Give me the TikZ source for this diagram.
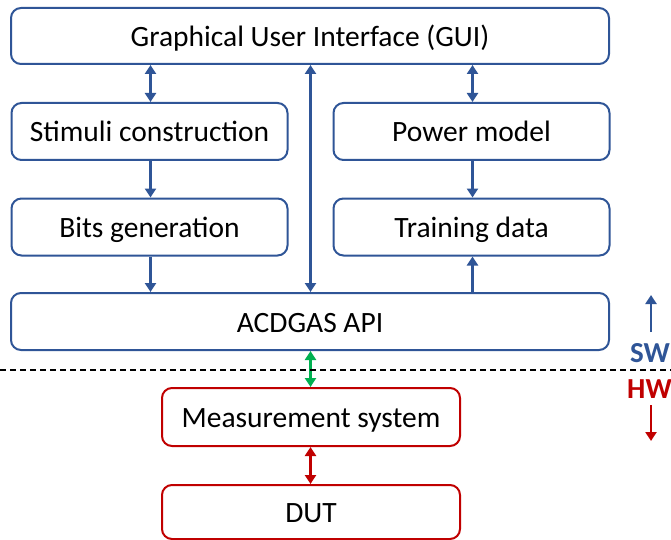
\documentclass[tikz,border=0pt]{standalone}
\usepackage{fontspec}
\setmainfont{Carlito}
\usetikzlibrary{arrows.meta}
\definecolor{swblue}{HTML}{2F5597}
\definecolor{hwred}{HTML}{C00000}
\definecolor{ifgreen}{HTML}{00B050}
\tikzset{
  box/.style={draw, rounded corners=10pt, line width=2pt, fill=white,
    font=\fontsize{29.5}{34}\selectfont, inner sep=0pt, anchor=center,
    text height=22pt, text depth=1pt},
  swbox/.style={box, draw=swblue},
  hwbox/.style={box, draw=hwred},
  tip/.style={-{Triangle[width=11pt,length=9pt]}},
  dtip/.style={{Triangle[width=11pt,length=9pt]}-{Triangle[width=11pt,length=9pt]}},
  conn/.style={line width=2.5pt},
  lbl/.style={font=\fontsize{29}{34}\selectfont\bfseries, inner sep=0pt, anchor=west}
}
\begin{document}
\begin{tikzpicture}[x=1pt,y=-1pt]
\useasboundingbox (0,0) rectangle (671,540);
\node[swbox, minimum width=598pt, minimum height=56pt] (gui) at (310,36) {Graphical User Interface (GUI)};
\node[swbox, minimum width=276pt, minimum height=57pt] (stim) at (149.5,131.5) {Stimuli construction};
\node[swbox, minimum width=276pt, minimum height=57pt] (power) at (471.5,131.5) {Power model};
\node[swbox, minimum width=276pt, minimum height=57pt] (bits) at (149.5,227) {Bits generation};
\node[swbox, minimum width=276pt, minimum height=57pt] (train) at (471.5,227) {Training data};
\node[swbox, minimum width=598pt, minimum height=57pt] (api) at (310,321.5) {ACDGAS API};
\node[hwbox, minimum width=298pt, minimum height=58pt] (meas) at (311,417) {Measurement system};
\node[hwbox, minimum width=298pt, minimum height=54pt] (dut) at (311,512) {DUT};

\coordinate (xl) at (150.5,0);
\coordinate (xm) at (310.5,0);
\coordinate (xr) at (472.5,0);

\draw[conn, swblue, dtip] (gui.south -| xl) -- (stim.north -| xl);
\draw[conn, swblue, dtip] (gui.south -| xr) -- (power.north -| xr);
\draw[conn, swblue, tip] (stim.south -| xl) -- (bits.north -| xl);
\draw[conn, swblue, tip] (power.south -| xr) -- (train.north -| xr);
\draw[conn, swblue, tip] (bits.south -| xl) -- (api.north -| xl);
\draw[conn, swblue, tip] (api.north -| xr) -- (train.south -| xr);
\draw[conn, swblue, dtip] (api.north -| xm) -- (gui.south -| xm);
\draw[conn, ifgreen, dtip] (api.south -| xm) -- (meas.north -| xm);
\draw[conn, hwred, dtip] (meas.south -| xm) -- (dut.north -| xm);

\coordinate (dl) at (0,370);
\coordinate (dr) at (671,370);
\draw[line width=1.3pt, dash pattern=on 6pt off 4pt] (dl) -- (dr);

\coordinate (swa) at (651,332);
\coordinate (swb) at (651,295);
\coordinate (hwa) at (651,405);
\coordinate (hwb) at (651,441);
\draw[conn, swblue, tip] (swa) -- (swb);
\draw[conn, hwred, tip] (hwa) -- (hwb);
\node[lbl, text=swblue] (sw) at (630,353) {SW};
\node[lbl, text=hwred] (hw) at (627,389) {HW};
\end{tikzpicture}
\end{document}
